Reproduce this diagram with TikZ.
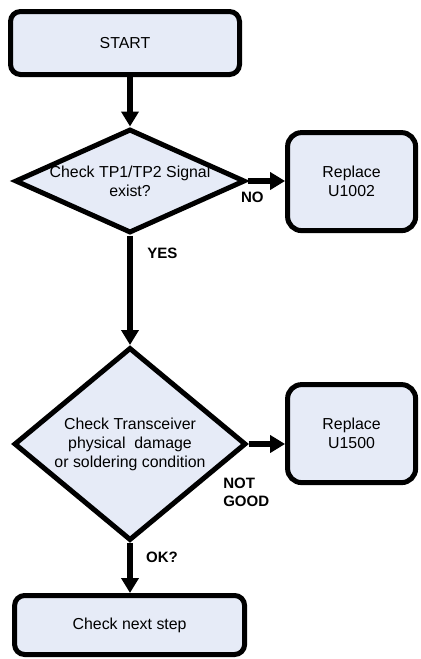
\documentclass[tikz,border=0pt]{standalone}
\usepackage{fontspec}
\setmainfont{Liberation Sans}
\usepackage{tikz}
\usetikzlibrary{
    arrows.meta,
    positioning,
    calc,
    shapes.geometric
}
\definecolor{boxfill}{RGB}{230,235,247}
\tikzset{
    terminal/.style={
        draw,
        line width=1.25mm,
        rounded corners=2.5mm,
        align=center,
        fill=boxfill,
        inner sep=0pt
    }
}
\tikzset{
    decision/.style={
        draw,
        diamond,
        line width=1.25mm,
        align=center,
        fill=boxfill,
        inner ysep=0pt,
        inner xsep=-1.5mm
    }
}
\tikzset{
    action/.style={
        draw,
        line width=1.25mm,
        rounded corners=3.5mm,
        minimum width=32mm,
        minimum height=24.5mm,
        align=center,
        fill=boxfill
    }
}
\tikzset{
    flow/.style={
        draw=black,
        line width=1.5mm,
        -{Triangle[length=3.75mm,width=4.25mm]}
    }
}
\tikzset{
    answer/.style={
        font=\fontsize{10.7}{12.5}\selectfont\bfseries,
        align=left,
        inner sep=0pt
    }
}

\begin{document}
\begin{tikzpicture}[
    font=\fontsize{11.3}{13.5}\selectfont
]
\useasboundingbox (0,0) rectangle (105mm,-164.75mm);

% ------------------------------------------------------------
% Main column: start, the two checks, next step
% ------------------------------------------------------------

\node[terminal, minimum width=57.25mm, minimum height=15.75mm] (start) at (31.25mm,-10.75mm) {START};

\node[decision, minimum width=57.5mm, minimum height=26mm, shape aspect=2.2] (tpcheck) at (32.5mm,-45.25mm)
    {Check TP1/TP2 Signal\\exist?};

\node[decision, minimum width=58mm, minimum height=48.25mm, shape aspect=1.2] (xcvrcheck) at (32.5mm,-111mm)
    {Check Transceiver\\physical\ \ damage\\or soldering condition};

\node[terminal, minimum width=57.5mm, minimum height=14.75mm] (next) at (32.4mm,-156.25mm) {Check next step};

% ------------------------------------------------------------
% Replacement actions
% ------------------------------------------------------------

\node[action] (repA) at (87.9mm,-45.4mm) {Replace\\U1002};
\node[action] (repB) at (87.9mm,-108.4mm) {Replace\\U1500};

% Flow between the steps
\draw[flow] (start.south -| tpcheck.north) -- (tpcheck.north);
\draw[flow] (tpcheck.south) -- (xcvrcheck.north);
\draw[flow] (xcvrcheck.south) -- (next.north -| xcvrcheck.south);
\draw[flow] (tpcheck.east) -- (tpcheck.east -| repA.west);
\draw[flow] (xcvrcheck.east) -- (xcvrcheck.east -| repB.west);

% Answers
\node[answer] (ansno) at (63.1mm,-49.25mm) {NO};
\node[answer] (ansyes) at (40.6mm,-63.25mm) {YES};
\node[answer, anchor=west] (ansnotgood) at (55.75mm,-123.1mm) {NOT\\GOOD};
\node[answer] (ansok) at (40.5mm,-139.25mm) {OK?};

\end{tikzpicture}
\end{document}
